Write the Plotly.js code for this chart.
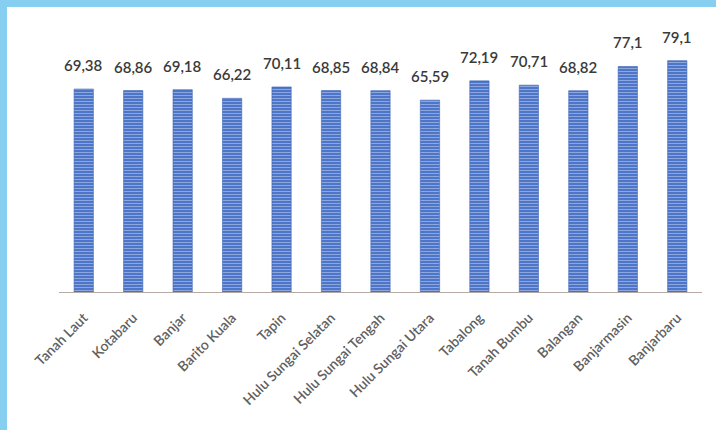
<!DOCTYPE html>
<html>
<head>
<meta charset="utf-8">
<script src="https://cdn.plot.ly/plotly-3.0.1.min.js"></script>
<style>
  html, body { margin: 0; padding: 0; background: #86cff0; width: 716px; height: 430px; overflow: hidden; }
  #chart { position: absolute; left: 7px; top: 7px; width: 709px; height: 423px; background: #ffffff; }
</style>
</head>
<body>
<div id="chart"></div>
<script>
const categories = ["Tanah Laut", "Kotabaru", "Banjar", "Barito Kuala", "Tapin", "Hulu Sungai Selatan",
  "Hulu Sungai Tengah", "Hulu Sungai Utara", "Tabalong", "Tanah Bumbu", "Balangan", "Banjarmasin", "Banjarbaru"];
const values = [69.38, 68.86, 69.18, 66.22, 70.11, 68.85, 68.84, 65.59, 72.19, 70.71, 68.82, 77.1, 79.1];
const valueLabels = values.map(v => String(v).replace('.', ','));

const trace = {
  type: 'bar',
  x: categories,
  y: values,
  marker: {
    color: '#4d75c8',
    line: { color: '#3e64b6', width: 0.6 },
    pattern: { shape: '-', bgcolor: '#4d75c8', fgcolor: '#94abe0', size: 3, solidity: 0.3 }
  },
  hoverinfo: 'skip'
};

const annotations = categories.map((c, i) => ({
  x: c, y: values[i], xref: 'x', yref: 'y',
  text: valueLabels[i], showarrow: false,
  yanchor: 'bottom', yshift: 13,
  font: { family: 'Lato, "Open Sans", sans-serif', size: 15, color: '#3a3a3a', weight: 600 }
}));

const layout = {
  width: 709, height: 423,
  margin: { l: 52, r: 14, t: 51, b: 138 },
  paper_bgcolor: '#ffffff', plot_bgcolor: '#ffffff',
  bargap: 0.61,
  showlegend: false,
  xaxis: {
    type: 'category',
    showline: true, linecolor: '#b5aaa5', linewidth: 1.2,
    ticks: '', tickangle: -45,
    ticklabelstandoff: 11,
    tickfont: { family: 'Lato, "Open Sans", sans-serif', size: 14, color: '#606060', weight: 600 },
    showgrid: false, zeroline: false
  },
  yaxis: {
    range: [0, 80], visible: false, showgrid: false, zeroline: false, fixedrange: true
  },
  annotations: annotations
};

Plotly.newPlot('chart', [trace], layout, { displayModeBar: false, staticPlot: true });
</script>
</body>
</html>
